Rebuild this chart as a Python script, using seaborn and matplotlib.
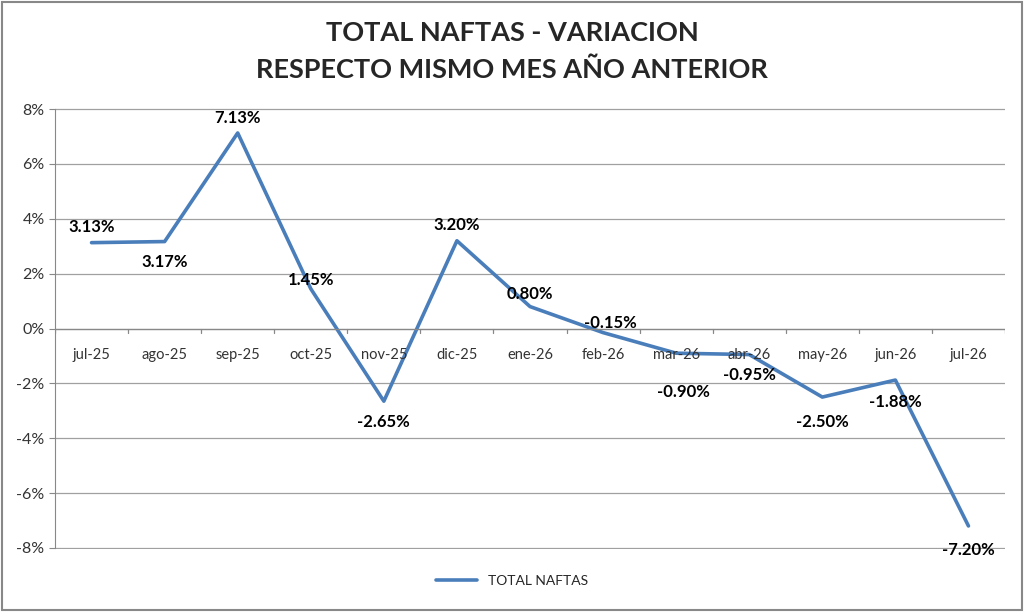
import numpy as np
import pandas as pd
import matplotlib
matplotlib.use("Agg")
import matplotlib.pyplot as plt
import seaborn as sns
from matplotlib.ticker import FuncFormatter, MultipleLocator

# Data
months = ["jul-25", "ago-25", "sep-25", "oct-25", "nov-25", "dic-25", "ene-26",
          "feb-26", "mar-26", "abr-26", "may-26", "jun-26", "jul-26"]
variacion = [3.13, 3.17, 7.13, 1.45, -2.65, 3.20, 0.80,
             -0.15, -0.90, -0.95, -2.50, -1.88, -7.20]
# label placement: offset (points) from each point
label_dx = [0, 0, 0, 0, 0, 0, 0, 5, 5, 0, 0, 0, 0]
label_dy = [11, -15, 11, 6, -15, 11, 9, 7, -28, -15, -18, -16, -17]

df = pd.DataFrame({"mes": months, "var": variacion})
df["x"] = np.arange(len(months))

sns.set_style("white")
plt.rcParams["font.family"] = ["Lato", "DejaVu Sans"]

fig = plt.figure(figsize=(10.24, 6.12), dpi=100)
ax = fig.add_axes([55 / 1024, 1 - 549 / 612, 950 / 1024, 441 / 612])

line_color = "#4a7ebb"
sns.lineplot(data=df, x="x", y="var", ax=ax, color=line_color, linewidth=2.6,
             label="TOTAL NAFTAS", legend=False)

for i, row in df.iterrows():
    ax.annotate(f"{row['var']:.2f}%", (row["x"], row["var"]),
                xytext=(label_dx[i], label_dy[i]), textcoords="offset points",
                ha="center", va="center", fontsize=12, fontweight="bold",
                color="black")

ax.set_xlim(-0.5, len(months) - 0.5)
ax.set_ylim(-8.04, 8.04)
ax.yaxis.set_major_locator(MultipleLocator(2))
ax.yaxis.set_major_formatter(FuncFormatter(lambda v, p: f"{v:.0f}%"))
ax.grid(axis="y", color="#a0a0a0", linewidth=0.9)
ax.set_axisbelow(True)
ax.set_xticks([])
ax.set_xlabel("")
ax.set_ylabel("")

for s in ["top", "right", "bottom"]:
    ax.spines[s].set_visible(False)
ax.spines["left"].set_color("#888888")
ax.spines["left"].set_bounds(-8, 8)
ax.tick_params(axis="y", labelsize=11.5, colors="#333333", length=4, left=True,
               color="#888888")

# category axis at zero with ticks between categories
ax.axhline(0, color="#888888", linewidth=0.9)
for b in np.arange(-0.5, len(months), 1.0):
    ax.plot([b, b], [0, -0.18], color="#888888", linewidth=0.9)
for i, m in enumerate(months):
    ax.text(i, -0.95, m, ha="center", va="center", fontsize=10.5,
            color="#333333")

fig.text(0.5, 1 - 33 / 612, "TOTAL NAFTAS - VARIACION", ha="center",
         va="center", fontsize=19.5, fontweight="bold")
fig.text(0.5, 1 - 70 / 612, "RESPECTO MISMO MES AÑO ANTERIOR", ha="center",
         va="center", fontsize=19.5, fontweight="bold")

# legend at bottom
fig.legend(handles=ax.get_lines()[:1], labels=["TOTAL NAFTAS"],
           loc="center", bbox_to_anchor=(0.5, 1 - 581 / 612), frameon=False,
           fontsize=10, handlelength=3)

fig.patches.append(plt.Rectangle((0.002, 0.003), 0.996, 0.994,
                                 transform=fig.transFigure, fill=False,
                                 edgecolor="#888888", linewidth=1.5))

fig.savefig("out.png", dpi=100)
